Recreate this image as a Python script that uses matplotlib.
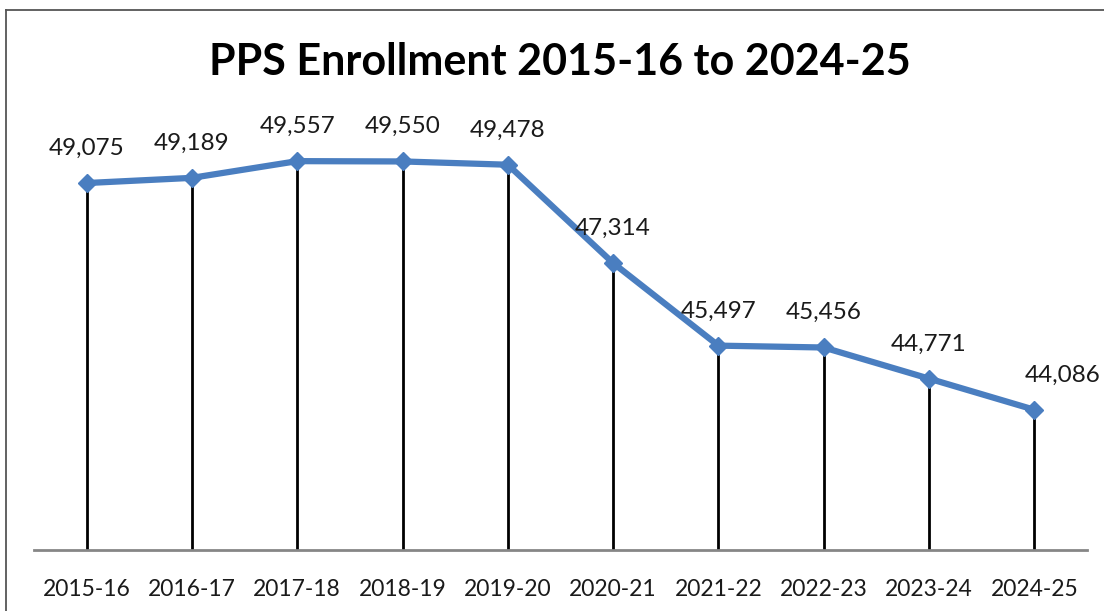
import matplotlib.pyplot as plt
from matplotlib.lines import Line2D

years = ['2015-16', '2016-17', '2017-18', '2018-19', '2019-20',
         '2020-21', '2021-22', '2022-23', '2023-24', '2024-25']
enrollment = [49075, 49189, 49557, 49550, 49478,
              47314, 45497, 45456, 44771, 44086]
title = 'PPS Enrollment 2015-16 to 2024-25'

plt.rcParams['font.family'] = ['Lato', 'DejaVu Sans']

fig = plt.figure(figsize=(11.04, 6.11), dpi=100)
ax = fig.add_axes([34 / 1104, 1 - 550 / 611, (1087 - 34) / 1104, (550 - 141) / 611])

x = list(range(len(years)))
ax.set_xlim(-0.5, len(years) - 0.5)
ax.set_ylim(41000, 50000)

# drop lines from each point to the axis
ax.vlines(x, 41000, enrollment, color='black', lw=2, zorder=2)
ax.plot(x, enrollment, color='#4A7EC0', lw=4.5, marker='D', markersize=9,
        markeredgecolor='#4A7EC0', zorder=3, clip_on=False)

for i, v in enumerate(enrollment):
    dx = 20 if i == len(years) - 1 else 0
    ax.annotate(f'{v:,}', (i, v), xytext=(dx, 25), textcoords='offset points',
                ha='center', va='center', fontsize=17.5, color='#1a1a1a')

ax.set_xticks(x)
ax.set_xticklabels(years, fontsize=16.5, color='#1a1a1a')
ax.tick_params(axis='x', length=0, pad=21)
ax.set_yticks([])
for side in ['top', 'right', 'left']:
    ax.spines[side].set_visible(False)
ax.spines['bottom'].set_color('#868686')
ax.spines['bottom'].set_linewidth(2)

fig.text(560 / 1104, 1 - 62 / 611, title, ha='center', va='center',
         fontsize=31, fontweight='bold', color='black')

# chart border (cropped at right and bottom)
fig.add_artist(Line2D([6 / 1104, 1.0], [1 - 10 / 611, 1 - 10 / 611],
                      transform=fig.transFigure, color='#555555', lw=1.3))
fig.add_artist(Line2D([6 / 1104, 6 / 1104], [1 - 10 / 611, 0.0],
                      transform=fig.transFigure, color='#555555', lw=1.3))

fig.savefig('out.png', dpi=100)
